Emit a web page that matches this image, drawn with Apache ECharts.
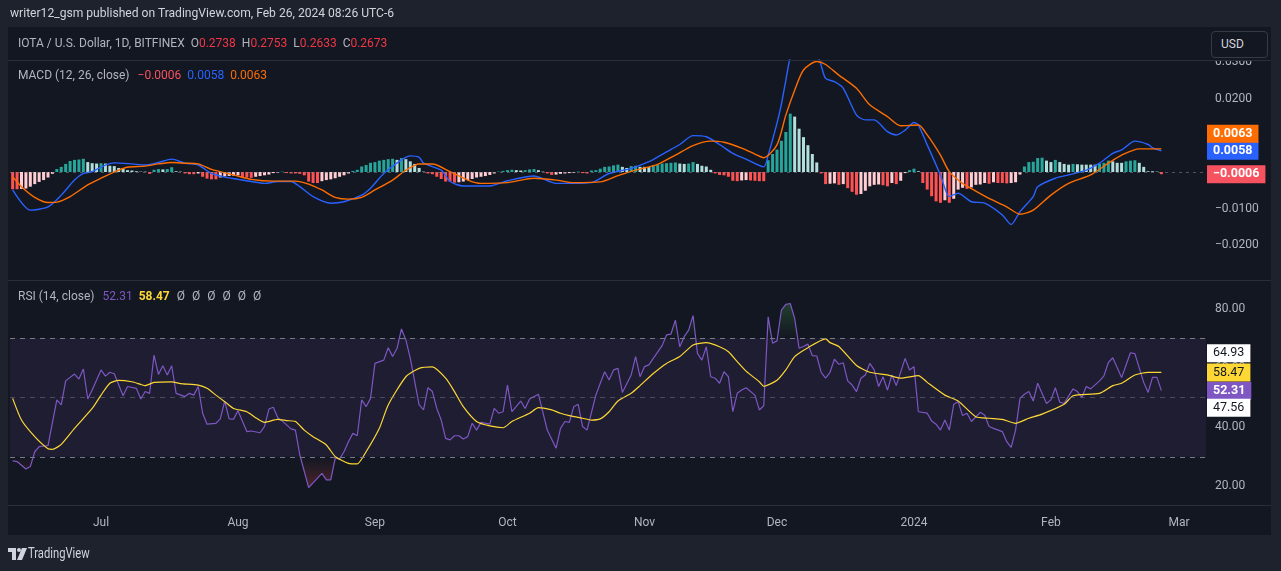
<!DOCTYPE html>
<html>
<head>
<meta charset="utf-8">
<script src="https://cdn.jsdelivr.net/npm/echarts/dist/echarts.min.js"></script>
<style>
  html,body{margin:0;padding:0;width:1281px;height:571px;overflow:hidden;background:#1e222d;font-family:Roboto,"Noto Sans",sans-serif;}
  .abs{position:absolute;}
  #panel{left:8px;top:27px;width:1263px;height:508px;background:#131722;}
  #chart{left:0;top:0;width:1281px;height:571px;}
  .sep{left:8px;width:1263px;height:1px;background:#2a2e39;z-index:5;}
  .lg{font-size:12px;color:#b2b5be;white-space:nowrap;z-index:6;line-height:16px;}
  .lg span{margin-left:6px;}
</style>
</head>
<body>
<div id="panel" class="abs"></div>
<div id="chart" class="abs"></div>
<div class="abs" style="left:1206px;top:28px;width:65px;height:32px;background:#131722;z-index:4"></div>
<div class="abs sep" style="top:60px"></div>
<div class="abs sep" style="top:280px"></div>
<div class="abs sep" style="top:505px"></div>
<div class="abs" style="left:1211px;top:31px;width:55px;height:25px;border:1px solid #363a45;border-radius:4px;z-index:6;color:#d1d4dc;font-size:12px;line-height:25px;"><span style="margin-left:9px">USD</span></div>
<div class="abs lg" style="left:10px;top:5px;font-size:12.1px;color:#d1d4dc">writer12_gsm published on TradingView.com, Feb 26, 2024 08:26 UTC-6</div>
<div class="abs lg" style="left:18px;top:35px">IOTA / U.S. Dollar, 1D, BITFINEX<span>O<b style="font-weight:normal;color:#f23645">0.2738</b></span><span>H<b style="font-weight:normal;color:#f23645">0.2753</b></span><span>L<b style="font-weight:normal;color:#f23645">0.2633</b></span><span>C<b style="font-weight:normal;color:#f23645">0.2673</b></span></div>
<div class="abs lg" style="left:18px;top:67px">MACD (12, 26, close)<span style="margin-left:8px;color:#f7525f">−0.0006</span><span style="color:#2962ff">0.0058</span><span style="color:#ff6d00">0.0063</span></div>
<div class="abs lg" style="left:18px;top:288px">RSI (14, close)<span style="margin-left:8px;color:#7e57c2">52.31</span><span style="color:#fdd835;font-weight:bold">58.47</span><span style="margin-left:7px">Ø</span><span style="margin-left:7px">Ø</span><span style="margin-left:7px">Ø</span><span style="margin-left:7px">Ø</span><span style="margin-left:7px">Ø</span><span style="margin-left:7px">Ø</span></div>
<div class="abs" style="left:8px;top:546px;z-index:6">
  <svg width="20" height="14" viewBox="0 0 20 14"><path d="M0 1h8v12h-4v-8h-4z" fill="#d1d4dc"/><circle cx="11" cy="3" r="2" fill="#d1d4dc"/><path d="M14 1h5l-5 12h-5z" fill="#d1d4dc"/></svg>
</div>
<div class="abs" style="left:28px;top:544px;z-index:6;color:#d1d4dc;font-size:14px;line-height:18px;transform:scaleX(0.8);transform-origin:left center;">TradingView</div>
<script>
// ---------------- DATA ----------------
const histStart = '2023-06-11';
const macdHist = [
 -0.0047,-0.0047,-0.0046,-0.0045,-0.0040,-0.0033,-0.0027,-0.0022,-0.0015,-0.0005,
 0.0008,0.0014,0.0022,0.0030,0.0033,0.0034,0.0036,0.0027,0.0024,0.0023,
 0.0024,0.0023,0.0017,0.0016,0.0011,0.0009,0.0005,0.0004,0.0002,0.0001,
 0.0001,-0.0005,0.0006,0.0008,0.0007,0.0008,0.0013,0.0002,0.0001,-0.0004,
 -0.0006,-0.0006,-0.0004,-0.0013,-0.0018,-0.0020,-0.0020,-0.0015,-0.0012,-0.0011,
 -0.0010,-0.0009,-0.0015,-0.0015,-0.0016,-0.0013,-0.0011,-0.0009,-0.0007,-0.0003,
 -0.0002,0.0001,-0.0003,-0.0004,-0.0004,-0.0005,-0.0009,-0.0026,-0.0030,-0.0030,
 -0.0025,-0.0022,-0.0020,-0.0017,-0.0013,-0.0009,-0.0004,0.0003,0.0006,0.0015,
 0.0019,0.0025,0.0027,0.0031,0.0033,0.0035,0.0036,0.0033,0.0038,0.0035,
 0.0029,0.0022,0.0011,0.0001,-0.0004,-0.0006,-0.0013,-0.0019,-0.0026,-0.0026,
 -0.0029,-0.0028,-0.0026,-0.0022,-0.0019,-0.0015,-0.0013,-0.0011,-0.0008,-0.0004,
 0.0001,0.0003,0.0005,0.0006,0.0005,0.0004,0.0005,0.0007,0.0008,0.0005,
 0.0001,-0.0004,-0.0008,-0.0007,-0.0005,-0.0004,-0.0003,-0.0002,0.0001,-0.0003,
 -0.0004,0.0004,0.0005,0.0009,0.0014,0.0015,0.0018,0.0020,0.0014,0.0011,
 0.0016,0.0017,0.0014,0.0014,0.0014,0.0018,0.0020,0.0023,0.0024,0.0025,
 0.0026,0.0023,0.0022,0.0023,0.0027,0.0022,0.0017,0.0015,0.0006,-0.0004,
 -0.0008,-0.0009,-0.0013,-0.0024,-0.0025,-0.0023,-0.0022,-0.0023,-0.0024,-0.0025,
 -0.0025,0.0032,0.0049,0.0061,0.0085,0.0109,0.0159,0.0151,0.0118,0.0095,
 0.0073,0.0049,0.0026,-0.0004,-0.0033,-0.0032,-0.0031,-0.0035,-0.0033,-0.0044,
 -0.0054,-0.0062,-0.0060,-0.0051,-0.0039,-0.0035,-0.0034,-0.0036,-0.0039,-0.0030,
 -0.0033,-0.0024,-0.0003,0.0005,0.0009,0.0002,-0.0030,-0.0048,-0.0066,-0.0080,
 -0.0084,-0.0077,-0.0084,-0.0073,-0.0048,-0.0043,-0.0046,-0.0042,-0.0035,-0.0034,
 -0.0030,-0.0032,-0.0028,-0.0030,-0.0030,-0.0031,-0.0030,-0.0028,-0.0007,0.0015,
 0.0027,0.0028,0.0038,0.0039,0.0031,0.0027,0.0033,0.0027,0.0022,0.0020,
 0.0022,0.0021,0.0020,0.0020,0.0020,0.0020,0.0023,0.0025,0.0031,0.0029,
 0.0025,0.0025,0.0029,0.0031,0.0032,0.0025,0.0014,0.0002,0.0002,0.0001,
 -0.0006
];
const macdLine = [
 ['2023-06-11',-0.0049],['2023-06-15',-0.0104],['2023-06-19',-0.0095],['2023-06-22',-0.0063],['2023-06-25',-0.0022],['2023-06-27',-0.0004],['2023-06-29',0.0001],['2023-07-02',0.0019],['2023-07-04',0.0025],['2023-07-08',0.0022],['2023-07-11',0.0019],['2023-07-14',0.0026],['2023-07-17',0.0035],['2023-07-20',0.0024],['2023-07-23',0.0019],['2023-07-26',-0.0004],['2023-07-29',-0.0014],['2023-08-01',-0.0020],['2023-08-04',-0.0026],['2023-08-07',-0.0031],['2023-08-10',-0.0026],['2023-08-13',-0.0026],['2023-08-15',-0.0040],['2023-08-18',-0.0067],['2023-08-22',-0.0085],['2023-08-25',-0.0081],['2023-08-29',-0.0063],['2023-08-31',-0.0044],['2023-09-03',-0.0004],['2023-09-07',0.0033],['2023-09-09',0.0044],['2023-09-11',0.0040],['2023-09-12',0.0024],['2023-09-16',0.0005],['2023-09-18',-0.0026],['2023-09-21',-0.0038],['2023-09-27',-0.0038],['2023-10-01',-0.0024],['2023-10-07',-0.0011],['2023-10-12',-0.0031],['2023-10-16',-0.0031],['2023-10-20',-0.0029],['2023-10-24',-0.0004],['2023-10-29',0.0010],['2023-11-02',0.0028],['2023-11-06',0.0055],['2023-11-09',0.0075],['2023-11-12',0.0099],['2023-11-15',0.0096],['2023-11-18',0.0075],['2023-11-21',0.0051],['2023-11-24',0.0035],['2023-11-28',0.0014],['2023-11-29',0.0046],['2023-12-01',0.0133],['2023-12-02',0.0185],['2023-12-03',0.0250],['2023-12-04',0.0314],['2023-12-05',0.0350],['2023-12-06',0.0360],['2023-12-07',0.0365],['2023-12-08',0.0360],['2023-12-09',0.0347],['2023-12-10',0.0326],['2023-12-11',0.0290],['2023-12-12',0.0255],['2023-12-14',0.0246],['2023-12-16',0.0228],['2023-12-19',0.0155],['2023-12-21',0.0142],['2023-12-23',0.0142],['2023-12-26',0.0110],['2023-12-28',0.0101],['2023-12-30',0.0114],['2024-01-01',0.0135],['2024-01-02',0.0128],['2024-01-04',0.0074],['2024-01-07',-0.0008],['2024-01-09',-0.0067],['2024-01-11',-0.0058],['2024-01-14',-0.0081],['2024-01-17',-0.0085],['2024-01-21',-0.0117],['2024-01-23',-0.0143],['2024-01-25',-0.0108],['2024-01-28',-0.0067],['2024-01-29',-0.0040],['2024-02-02',-0.0017],['2024-02-05',-0.0008],['2024-02-09',0.0005],['2024-02-12',0.0024],['2024-02-15',0.0051],['2024-02-17',0.0060],['2024-02-20',0.0084],['2024-02-23',0.0075],['2024-02-24',0.0066],['2024-02-26',0.0058]
];
const signalLine = [
 ['2023-06-11',-0.0013],['2023-06-13',-0.0040],['2023-06-16',-0.0069],['2023-06-19',-0.0083],['2023-06-21',-0.0082],['2023-06-24',-0.0067],['2023-06-28',-0.0035],['2023-07-01',-0.0017],['2023-07-05',0.0005],['2023-07-07',0.0013],['2023-07-11',0.0016],['2023-07-14',0.0022],['2023-07-17',0.0026],['2023-07-20',0.0024],['2023-07-23',0.0022],['2023-07-26',0.0007],['2023-07-31',-0.0008],['2023-08-04',-0.0020],['2023-08-09',-0.0025],['2023-08-14',-0.0025],['2023-08-17',-0.0033],['2023-08-20',-0.0049],['2023-08-23',-0.0069],['2023-08-26',-0.0074],['2023-08-29',-0.0069],['2023-09-01',-0.0049],['2023-09-05',-0.0022],['2023-09-08',0.0005],['2023-09-11',0.0022],['2023-09-14',0.0022],['2023-09-18',0.0001],['2023-09-22',-0.0022],['2023-09-25',-0.0031],['2023-10-01',-0.0029],['2023-10-07',-0.0017],['2023-10-12',-0.0022],['2023-10-16',-0.0029],['2023-10-22',-0.0027],['2023-10-26',-0.0010],['2023-10-30',0.0005],['2023-11-04',0.0021],['2023-11-08',0.0046],['2023-11-12',0.0072],['2023-11-16',0.0084],['2023-11-19',0.0081],['2023-11-23',0.0065],['2023-11-26',0.0049],['2023-11-28',0.0039],['2023-12-01',0.0074],['2023-12-03',0.0155],['2023-12-05',0.0223],['2023-12-07',0.0278],['2023-12-10',0.0301],['2023-12-12',0.0293],['2023-12-15',0.0264],['2023-12-19',0.0228],['2023-12-22',0.0183],['2023-12-26',0.0151],['2023-12-29',0.0126],['2024-01-02',0.0128],['2024-01-04',0.0101],['2024-01-07',0.0046],['2024-01-09',0.0001],['2024-01-12',-0.0031],['2024-01-15',-0.0052],['2024-01-18',-0.0072],['2024-01-22',-0.0095],['2024-01-25',-0.0115],['2024-01-28',-0.0104],['2024-02-01',-0.0063],['2024-02-05',-0.0031],['2024-02-10',-0.0008],['2024-02-14',0.0024],['2024-02-17',0.0046],['2024-02-21',0.0063],['2024-02-26',0.0063]
];
const rsiLine = [
 ['2023-06-11',28.6],['2023-06-12',28.4],['2023-06-14',25.9],['2023-06-15',26.7],['2023-06-16',31.7],['2023-06-17',33.4],['2023-06-19',33.8],['2023-06-21',49.2],['2023-06-22',47.5],['2023-06-23',55.6],['2023-06-25',57.9],['2023-06-26',56.2],['2023-06-27',59.6],['2023-06-28',49.5],['2023-06-29',52.5],['2023-07-01',59.3],['2023-07-02',57.2],['2023-07-03',58.5],['2023-07-04',58.0],['2023-07-06',50.6],['2023-07-07',53.7],['2023-07-09',53.1],['2023-07-10',49.5],['2023-07-11',52.0],['2023-07-12',51.4],['2023-07-13',64.3],['2023-07-14',57.8],['2023-07-15',60.7],['2023-07-16',57.6],['2023-07-17',60.7],['2023-07-18',51.4],['2023-07-20',50.3],['2023-07-21',51.4],['2023-07-22',50.8],['2023-07-23',53.7],['2023-07-24',44.7],['2023-07-25',41.0],['2023-07-27',41.3],['2023-07-28',42.8],['2023-07-29',48.8],['2023-07-30',42.8],['2023-07-31',42.7],['2023-08-01',45.5],['2023-08-03',38.5],['2023-08-04',38.7],['2023-08-06',38.1],['2023-08-07',40.2],['2023-08-08',46.1],['2023-08-09',46.7],['2023-08-10',43.2],['2023-08-11',42.1],['2023-08-13',39.4],['2023-08-14',39.0],['2023-08-15',30.6],['2023-08-17',19.6],['2023-08-20',24.4],['2023-08-21',22.2],['2023-08-22',22.2],['2023-08-23',29.5],['2023-08-24',29.3],['2023-08-25',31.7],['2023-08-26',35.1],['2023-08-27',37.9],['2023-08-28',37.1],['2023-08-29',49.2],['2023-08-30',46.9],['2023-08-31',49.7],['2023-09-01',61.5],['2023-09-03',62.6],['2023-09-04',66.8],['2023-09-05',63.8],['2023-09-06',66.6],['2023-09-07',73.1],['2023-09-08',69.4],['2023-09-09',63.2],['2023-09-11',47.5],['2023-09-12',45.8],['2023-09-13',53.3],['2023-09-14',52.0],['2023-09-15',46.3],['2023-09-16',42.4],['2023-09-17',36.2],['2023-09-18',35.7],['2023-09-19',37.1],['2023-09-20',37.1],['2023-09-21',36.0],['2023-09-22',36.8],['2023-09-23',41.3],['2023-09-24',39.0],['2023-09-25',41.6],['2023-09-27',41.0],['2023-09-28',46.3],['2023-09-29',44.7],['2023-09-30',45.2],['2023-10-01',54.2],['2023-10-02',45.2],['2023-10-04',48.8],['2023-10-05',46.3],['2023-10-06',49.5],['2023-10-08',51.1],['2023-10-10',39.0],['2023-10-12',32.9],['2023-10-13',39.6],['2023-10-14',41.9],['2023-10-15',41.6],['2023-10-16',46.9],['2023-10-17',47.7],['2023-10-18',40.2],['2023-10-19',39.0],['2023-10-21',50.8],['2023-10-22',54.8],['2023-10-23',58.7],['2023-10-24',55.9],['2023-10-25',59.3],['2023-10-26',59.8],['2023-10-27',51.7],['2023-10-29',57.6],['2023-10-30',63.8],['2023-10-31',57.0],['2023-11-01',60.4],['2023-11-02',61.0],['2023-11-03',63.2],['2023-11-05',67.5],['2023-11-06',71.1],['2023-11-07',71.4],['2023-11-08',76.1],['2023-11-09',67.1],['2023-11-10',70.5],['2023-11-11',72.7],['2023-11-12',77.6],['2023-11-13',64.9],['2023-11-14',62.6],['2023-11-15',67.1],['2023-11-16',57.0],['2023-11-17',56.5],['2023-11-18',54.8],['2023-11-19',58.7],['2023-11-20',57.0],['2023-11-21',45.2],['2023-11-22',51.4],['2023-11-23',52.5],['2023-11-24',53.3],['2023-11-26',50.8],['2023-11-27',45.8],['2023-11-28',47.2],['2023-11-29',77.2],['2023-11-30',68.3],['2023-12-01',69.1],['2023-12-02',79.5],['2023-12-03',81.4],['2023-12-04',81.7],['2023-12-05',76.7],['2023-12-06',66.6],['2023-12-07',67.2],['2023-12-08',68.0],['2023-12-09',64.1],['2023-12-10',64.0],['2023-12-11',58.5],['2023-12-12',56.5],['2023-12-13',58.5],['2023-12-14',62.9],['2023-12-15',61.2],['2023-12-16',61.7],['2023-12-17',55.6],['2023-12-18',54.2],['2023-12-19',52.0],['2023-12-20',56.5],['2023-12-21',57.6],['2023-12-22',61.5],['2023-12-23',59.3],['2023-12-24',53.7],['2023-12-25',57.0],['2023-12-26',52.5],['2023-12-27',57.6],['2023-12-28',54.0],['2023-12-30',63.2],['2023-12-31',59.3],['2024-01-01',60.4],['2024-01-02',45.2],['2024-01-04',44.7],['2024-01-05',42.1],['2024-01-06',41.0],['2024-01-07',39.0],['2024-01-08',42.4],['2024-01-09',39.0],['2024-01-10',47.7],['2024-01-11',48.6],['2024-01-12',43.9],['2024-01-13',44.7],['2024-01-14',41.9],['2024-01-16',45.0],['2024-01-17',44.1],['2024-01-18',40.2],['2024-01-19',39.6],['2024-01-21',38.5],['2024-01-22',35.1],['2024-01-23',33.2],['2024-01-24',39.0],['2024-01-25',49.7],['2024-01-26',51.1],['2024-01-27',52.0],['2024-01-28',48.8],['2024-01-29',54.8],['2024-01-31',48.0],['2024-02-01',49.2],['2024-02-02',53.3],['2024-02-03',48.4],['2024-02-04',48.0],['2024-02-06',52.9],['2024-02-07',52.0],['2024-02-08',50.0],['2024-02-09',53.7],['2024-02-10',52.9],['2024-02-12',55.6],['2024-02-13',57.3],['2024-02-14',61.8],['2024-02-15',63.4],['2024-02-17',56.7],['2024-02-19',65.1],['2024-02-20',64.8],['2024-02-22',55.1],['2024-02-23',51.7],['2024-02-24',56.8],['2024-02-25',56.8],['2024-02-26',52.31]
];
const rsiMa = [
 ['2023-06-11',49.7],['2023-06-13',42.4],['2023-06-16',36.8],['2023-06-19',32.7],['2023-06-20',32.5],['2023-06-22',34.2],['2023-06-25',39.6],['2023-06-29',46.3],['2023-07-01',50.8],['2023-07-03',54.8],['2023-07-05',55.8],['2023-07-08',55.3],['2023-07-10',54.4],['2023-07-11',54.0],['2023-07-13',55.1],['2023-07-17',55.3],['2023-07-19',54.7],['2023-07-23',54.2],['2023-07-25',53.1],['2023-07-27',50.8],['2023-07-29',48.6],['2023-07-31',46.3],['2023-08-03',45.2],['2023-08-05',43.2],['2023-08-07',41.6],['2023-08-10',42.6],['2023-08-12',42.2],['2023-08-14',41.9],['2023-08-16',39.0],['2023-08-18',36.8],['2023-08-21',34.0],['2023-08-23',30.1],['2023-08-26',27.8],['2023-08-28',27.6],['2023-08-30',31.7],['2023-09-02',39.6],['2023-09-04',47.5],['2023-09-08',57.0],['2023-09-11',59.8],['2023-09-14',60.3],['2023-09-17',56.5],['2023-09-19',52.0],['2023-09-21',46.9],['2023-09-24',41.9],['2023-09-27',40.4],['2023-09-30',39.8],['2023-10-02',41.9],['2023-10-06',44.7],['2023-10-08',46.6],['2023-10-11',45.8],['2023-10-13',44.7],['2023-10-15',43.9],['2023-10-18',43.0],['2023-10-20',42.4],['2023-10-22',42.8],['2023-10-24',45.2],['2023-10-26',48.8],['2023-10-29',51.4],['2023-10-31',54.0],['2023-11-03',58.1],['2023-11-06',61.5],['2023-11-09',63.8],['2023-11-12',67.7],['2023-11-15',68.5],['2023-11-18',67.1],['2023-11-20',65.4],['2023-11-22',62.1],['2023-11-24',58.9],['2023-11-27',55.3],['2023-11-28',53.8],['2023-12-01',55.8],['2023-12-03',59.3],['2023-12-05',63.8],['2023-12-08',66.8],['2023-12-12',69.8],['2023-12-13',68.5],['2023-12-15',67.2],['2023-12-19',60.8],['2023-12-22',58.5],['2023-12-26',57.6],['2023-12-29',56.5],['2024-01-02',57.4],['2024-01-04',55.1],['2024-01-08',50.8],['2024-01-11',48.8],['2024-01-15',43.5],['2024-01-18',43.0],['2024-01-21',42.6],['2024-01-24',41.3],['2024-01-27',43.0],['2024-01-30',44.4],['2024-02-04',47.7],['2024-02-06',50.6],['2024-02-12',51.4],['2024-02-15',54.0],['2024-02-17',54.8],['2024-02-20',57.6],['2024-02-23',58.5],['2024-02-26',58.47]
];
const rsiBandUpper = 64.93;
const rsiBandLower = 47.56;
const monthTicks = ['2023-07-01','2023-08-01','2023-09-01','2023-10-01','2023-11-01','2023-12-01','2024-01-01','2024-02-01','2024-03-01'];
const monthLabels = ['Jul','Aug','Sep','Oct','Nov','Dec','2024','Feb','Mar'];
const macdTicks = [-0.02,-0.01,0,0.01,0.02,0.03];
const rsiTicks = [20,40,60,80];
const rsiLevels = [70,50,30];

// ---------------- BUILD ----------------
const DAY = 86400000;
function ts(s){const p=s.split('-');return Date.UTC(+p[0],+p[1]-1,+p[2]);}
const t0 = ts(histStart);
const xMin = t0 - 0.6*DAY;
const xMax = ts('2024-03-07') + 0.1*DAY;
const histData = macdHist.map((v,i)=>{
  const prev = i>0 ? macdHist[i-1] : 0;
  let c;
  if (v >= 0) c = prev < v ? '#26a69a' : '#b2dfdb';
  else c = prev < v ? '#ffcdd2' : '#ff5252';
  return {value:[t0+i*DAY, v], itemStyle:{color:c}};
});
const toPts = arr => arr.map(d=>[ts(d[0]), d[1]]);
const fmtMacd = v => (v<0?'−':'') + Math.abs(v).toFixed(4);
const tickTs = monthTicks.map(ts);

const chart = echarts.init(document.getElementById('chart'), null, {renderer:'canvas'});
const font = 'Roboto, "Noto Sans", sans-serif';
const hiddenAxis = {axisLine:{show:false},axisTick:{show:false},splitLine:{show:false}};
const option = {
  animation:false,
  backgroundColor:'transparent',
  textStyle:{fontFamily:font},
  grid:[
    {left:10,right:75,top:60,height:220},
    {left:10,right:75,top:281,height:224}
  ],
  xAxis:[
    Object.assign({gridIndex:0,type:'value',min:xMin,max:xMax,axisLabel:{show:false}},hiddenAxis),
    Object.assign({gridIndex:1,type:'value',min:xMin,max:xMax,
      axisLabel:{customValues:tickTs,color:'#b2b5be',fontSize:12,margin:12,hideOverlap:false,
        formatter:function(v){let k=-1;tickTs.forEach((t,j)=>{if(Math.abs(t-v)<1000)k=j;});return k>=0?monthLabels[k]:'';}}},hiddenAxis)
  ],
  yAxis:[
    Object.assign({gridIndex:0,type:'value',position:'right',min:-0.02943,max:0.03052,
      axisLabel:{customValues:macdTicks,color:'#b2b5be',fontSize:12,margin:9,formatter:fmtMacd}},hiddenAxis),
    Object.assign({gridIndex:1,type:'value',position:'right',min:13.74,max:89.29,
      axisLabel:{customValues:rsiTicks,color:'#b2b5be',fontSize:12,margin:9,formatter:v=>v.toFixed(2)}},hiddenAxis)
  ],
  series:[
    {type:'bar',name:'Histogram',xAxisIndex:0,yAxisIndex:0,barWidth:3,data:histData,z:2,silent:true,
      markLine:{silent:true,symbol:'none',label:{show:false},lineStyle:{color:'rgba(120,123,134,0.6)',type:[3,4],width:1},data:[{yAxis:0}]}},
    {type:'line',name:'MACD',xAxisIndex:0,yAxisIndex:0,data:toPts(macdLine),showSymbol:false,smooth:0.25,
      lineStyle:{color:'#2962ff',width:1.4},z:3,silent:true},
    {type:'line',name:'Signal',xAxisIndex:0,yAxisIndex:0,data:toPts(signalLine),showSymbol:false,smooth:0.25,
      lineStyle:{color:'#ff6d00',width:1.4},z:3,silent:true},
    {type:'line',name:'RSIfill',xAxisIndex:1,yAxisIndex:1,data:toPts(rsiLine),showSymbol:false,
      lineStyle:{width:0,opacity:0},areaStyle:{origin:50,color:'rgba(0,0,0,0)'},z:1,silent:true,
      markArea:{silent:true,itemStyle:{color:'rgba(126,87,194,0.1)'},data:[[{yAxis:rsiLevels[0]},{yAxis:rsiLevels[2]}]]}},
    {type:'line',name:'RSI',xAxisIndex:1,yAxisIndex:1,data:toPts(rsiLine),showSymbol:false,
      lineStyle:{color:'#7e57c2',width:1.2},z:3,silent:true,
      markLine:{silent:true,symbol:'none',label:{show:false},data:[
        {yAxis:rsiLevels[0],lineStyle:{color:'#787b86',type:[5,5],width:1}},
        {yAxis:rsiLevels[1],lineStyle:{color:'rgba(120,123,134,0.5)',type:[5,5],width:1}},
        {yAxis:rsiLevels[2],lineStyle:{color:'#787b86',type:[5,5],width:1}}]}},
    {type:'line',name:'RSI MA',xAxisIndex:1,yAxisIndex:1,data:toPts(rsiMa),showSymbol:false,smooth:0.2,
      lineStyle:{color:'#fdd835',width:1.2},z:4,silent:true}
  ]
};
chart.setOption(option);

// gradient for overbought / oversold areas
const y100 = chart.convertToPixel({yAxisIndex:1},100);
const y0 = chart.convertToPixel({yAxisIndex:1},0);
const grad = new echarts.graphic.LinearGradient(0,y100,0,y0,[
  {offset:0,color:'rgba(76,175,80,1)'},
  {offset:0.3,color:'rgba(76,175,80,0)'},
  {offset:0.3,color:'rgba(0,0,0,0)'},
  {offset:0.7,color:'rgba(0,0,0,0)'},
  {offset:0.7,color:'rgba(255,82,82,0)'},
  {offset:1,color:'rgba(255,82,82,1)'}
], true);

// price-scale labels
const H = 17;
function place(list, axis){
  const placed=[];
  list.forEach(l=>{ l.y = chart.convertToPixel({yAxisIndex:axis}, l.v); });
  list.filter(l=>l.fixed).forEach(l=>placed.push(l));
  list.filter(l=>!l.fixed).forEach(l=>{
    let y=l.y;
    for(let k=0;k<4;k++){
      placed.forEach(p=>{ if(Math.abs(y-p.y)<H){ y = (l.y < p.y) ? p.y-H : p.y+H; } });
    }
    l.y=y; placed.push(l);
  });
  return list;
}
const macdLabels = place([
  {v:macdHist[macdHist.length-1], text:fmtMacd(macdHist[macdHist.length-1]), bg:'#f7525f', fg:'#ffffff', fixed:true},
  {v:macdLine[macdLine.length-1][1], text:fmtMacd(macdLine[macdLine.length-1][1]), bg:'#2962ff', fg:'#ffffff', fixed:true},
  {v:signalLine[signalLine.length-1][1], text:fmtMacd(signalLine[signalLine.length-1][1]), bg:'#ff6d00', fg:'#ffffff', fixed:false}
],0);
const rsiLabels = place([
  {v:rsiLine[rsiLine.length-1][1], text:rsiLine[rsiLine.length-1][1].toFixed(2), bg:'#7e57c2', fg:'#ffffff', fixed:true},
  {v:rsiMa[rsiMa.length-1][1], text:rsiMa[rsiMa.length-1][1].toFixed(2), bg:'#fdd835', fg:'#131722', fixed:true},
  {v:rsiBandUpper, text:rsiBandUpper.toFixed(2), bg:'#ffffff', fg:'#131722', fixed:false},
  {v:rsiBandLower, text:rsiBandLower.toFixed(2), bg:'#ffffff', fg:'#131722', fixed:false}
],1);
const gridRight = chart.convertToPixel({xAxisIndex:0}, xMax);
const elements = macdLabels.concat(rsiLabels).map(l=>({
  type:'text', z:100, silent:true,
  style:{text:l.text, x:gridRight+1, y:l.y, fill:l.fg, backgroundColor:l.bg, padding:[3,6,2,6],
    font:(l.fg==='#ffffff'?'bold ':'')+'12.5px '+font, verticalAlign:'middle', align:'left'}
}));
chart.setOption({
  series:[{},{},{},{areaStyle:{origin:50,color:grad}},{},{}],
  graphic:{elements:elements}
});
</script>
</body>
</html>
